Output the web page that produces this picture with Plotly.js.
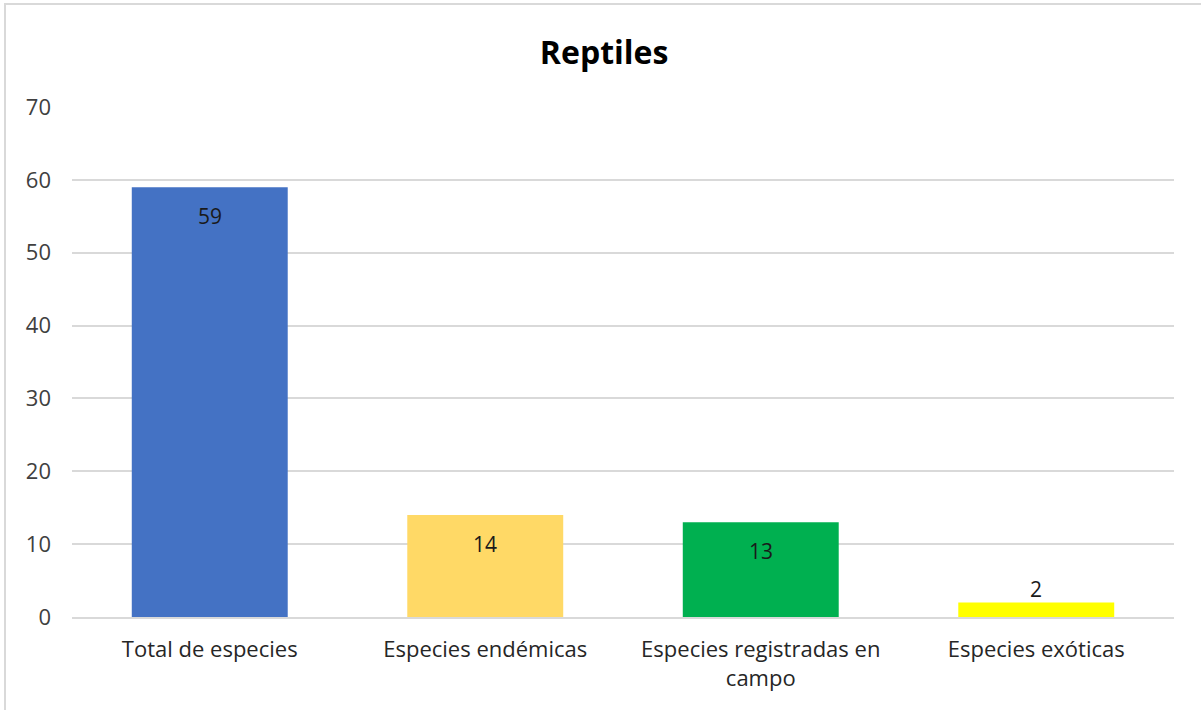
<!DOCTYPE html>
<html>
<head>
<meta charset="utf-8">
<script src="https://cdn.plot.ly/plotly-3.0.1.min.js"></script>
<style>
html,body{margin:0;padding:0;background:#fff;overflow:hidden;}
#frame{position:absolute;left:4px;top:3px;width:1300px;height:800px;border-left:2px solid #d9d9d9;border-top:2px solid #d9d9d9;box-sizing:border-box;pointer-events:none;z-index:5;}
#chart{position:absolute;left:0;top:0;width:1201px;height:710px;}
</style>
</head>
<body>
<div id="chart"></div>
<div id="frame"></div>
<script>
const categories = ["Total de especies", "Especies endémicas", "Especies registradas en<br>campo", "Especies exóticas"];
const values = [59, 14, 13, 2];
const barColors = ["#4472C4", "#FFD966", "#00B050", "#FFFF00"];
const yTicks = [0, 10, 20, 30, 40, 50, 60, 70];

const FONT = "'Open Sans', 'Noto Sans', sans-serif";

const trace = {
  type: "bar",
  x: categories,
  y: values,
  marker: { color: barColors, line: { width: 0 } },
  width: 0.566,
  hoverinfo: "skip"
};

const annotations = values.map((v, i) => {
  const inside = v >= 5;
  return {
    x: categories[i],
    y: v,
    xref: "x",
    yref: "y",
    text: String(v),
    showarrow: false,
    yanchor: "middle",
    yshift: inside ? -29 : 13,
    font: { family: FONT, size: 21, color: "#1a1a1a" }
  };
});

const layout = {
  width: 1201,
  height: 710,
  margin: { l: 72, r: 27, t: 107, b: 93 },
  paper_bgcolor: "#ffffff",
  plot_bgcolor: "#ffffff",
  showlegend: false,
  bargap: 0.434,
  title: {
    text: "<b>Reptiles</b>",
    x: 0.503,
    xanchor: "center",
    y: 0.925,
    yanchor: "middle",
    font: { family: FONT, size: 32, color: "#000000" }
  },
  xaxis: {
    type: "category",
    showgrid: false,
    showline: true,
    linecolor: "#d9d9d9",
    linewidth: 2,
    ticks: "",
    ticklabelstandoff: 12,
    tickfont: { family: FONT, size: 22, color: "#262626" },
    zeroline: false,
    fixedrange: true
  },
  yaxis: {
    range: [0, 70],
    tickvals: yTicks,
    ticktext: yTicks.map(String),
    showgrid: true,
    gridcolor: "#d9d9d9",
    gridwidth: 2,
    zeroline: false,
    showline: false,
    ticks: "",
    ticklabelstandoff: 20,
    tickfont: { family: FONT, size: 22, color: "#404040" },
    fixedrange: true
  },
  annotations: annotations
};

Plotly.newPlot("chart", [trace], layout, { displayModeBar: false, staticPlot: true });
</script>
</body>
</html>
